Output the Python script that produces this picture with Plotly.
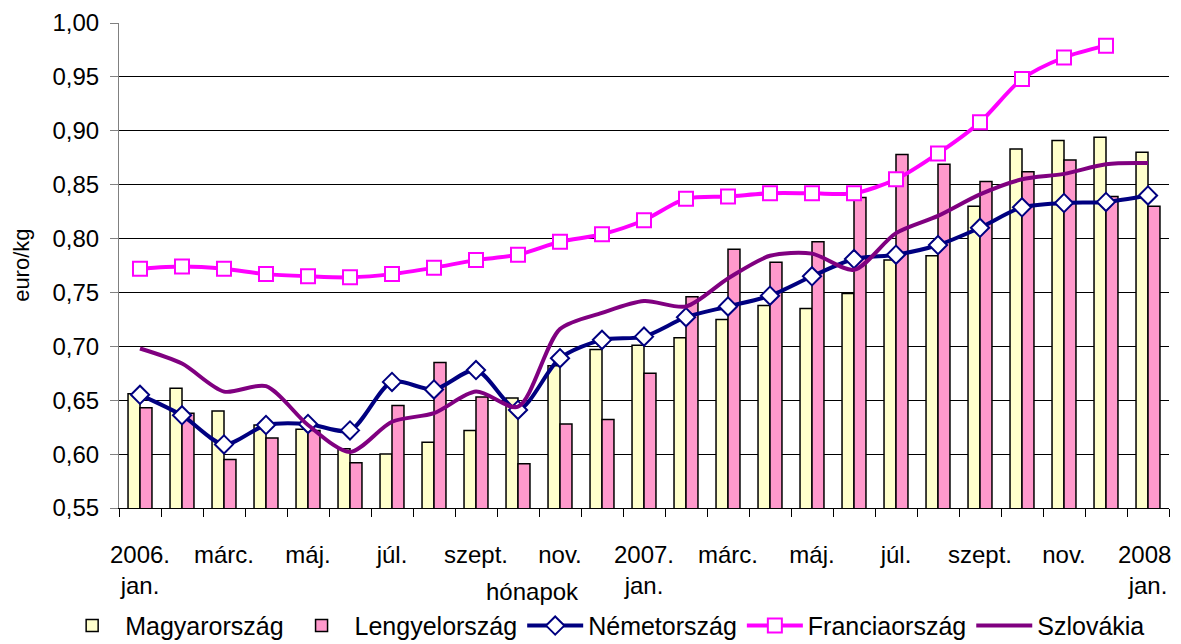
import plotly.graph_objects as go

months = ["2006-01", "2006-02", "2006-03", "2006-04", "2006-05", "2006-06",
          "2006-07", "2006-08", "2006-09", "2006-10", "2006-11", "2006-12",
          "2007-01", "2007-02", "2007-03", "2007-04", "2007-05", "2007-06",
          "2007-07", "2007-08", "2007-09", "2007-10", "2007-11", "2007-12",
          "2008-01"]
tick_labels = ["2006.<br>jan.", "", "márc.", "", "máj.", "", "júl.", "", "szept.", "",
               "nov.", "", "2007.<br>jan.", "", "márc.", "", "máj.", "", "júl.", "",
               "szept.", "", "nov.", "", "2008.<br>jan."]

magyarorszag = [0.656, 0.661, 0.640, 0.627, 0.623, 0.605, 0.600, 0.611, 0.622, 0.652,
                0.682, 0.697, 0.701, 0.708, 0.725, 0.738, 0.735, 0.749, 0.780, 0.784,
                0.830, 0.883, 0.891, 0.894, 0.880]
lengyelorszag = [0.643, 0.638, 0.595, 0.615, 0.622, 0.592, 0.645, 0.685, 0.653, 0.591,
                 0.628, 0.632, 0.675, 0.746, 0.790, 0.778, 0.797, 0.838, 0.878, 0.869,
                 0.853, 0.862, 0.873, 0.839, 0.830]
nemetorszag = [0.655, 0.636, 0.609, 0.627, 0.628, 0.622, 0.667, 0.660, 0.678, 0.641,
               0.689, 0.706, 0.709, 0.727, 0.737, 0.747, 0.765, 0.781, 0.785, 0.794,
               0.810, 0.829, 0.833, 0.834, 0.840]
franciaorszag = [0.772, 0.774, 0.772, 0.767, 0.765, 0.764, 0.767, 0.773, 0.780, 0.785,
                 0.797, 0.804, 0.817, 0.837, 0.839, 0.842, 0.842, 0.842, 0.855, 0.879,
                 0.908, 0.948, 0.968, 0.979, None]
szlovakia = [0.698, 0.684, 0.658, 0.663, 0.627, 0.602, 0.630, 0.638, 0.658, 0.644,
             0.716, 0.731, 0.742, 0.737, 0.763, 0.784, 0.786, 0.771, 0.805, 0.821,
             0.841, 0.855, 0.860, 0.869, 0.870]

FONT = "Arial, Liberation Sans, sans-serif"

fig = go.Figure()
fig.add_trace(go.Bar(x=months, y=magyarorszag, name="Magyarország",
                     marker=dict(color="#FFFFCC", line=dict(color="black", width=1.5))))
fig.add_trace(go.Bar(x=months, y=lengyelorszag, name="Lengyelország",
                     marker=dict(color="#FF99CC", line=dict(color="black", width=1.5))))
fig.add_trace(go.Scatter(x=months, y=nemetorszag, name="Németország", mode="lines+markers",
                         line=dict(color="#000080", width=4, shape="spline", smoothing=0.8),
                         marker=dict(symbol="diamond", size=14, color="white",
                                     line=dict(color="#000080", width=2))))
fig.add_trace(go.Scatter(x=months, y=franciaorszag, name="Franciaország", mode="lines+markers",
                         line=dict(color="#FF00FF", width=4, shape="spline", smoothing=0.8),
                         marker=dict(symbol="square", size=14, color="white",
                                     line=dict(color="#FF00FF", width=2))))
fig.add_trace(go.Scatter(x=months, y=szlovakia, name="Szlovákia", mode="lines",
                         line=dict(color="#800080", width=4, shape="spline", smoothing=0.8)))

# The page body adds an 8px margin, so the figure is sized to fit the window.
fig.update_layout(
    width=1173, height=636,
    margin=dict(l=111, r=12, t=15, b=136, autoexpand=False),
    paper_bgcolor="white", plot_bgcolor="white",
    font=dict(family=FONT, size=24, color="black"),
    separators=", ",
    barmode="group", bargap=0.43, bargroupgap=0,
    showlegend=True,
    legend=dict(orientation="h", x=-0.057, xanchor="left", y=-0.243, yanchor="middle",
                font=dict(size=25), itemwidth=56, tracegroupgap=0,
                bgcolor="rgba(0,0,0,0)"),
    xaxis=dict(type="category", tickmode="array", tickvals=months, ticktext=tick_labels,
               range=[-0.5, 24.5], autorange=False,
               tickson="boundaries", ticks="outside", ticklen=8, tickcolor="black",
               showline=True, linecolor="black", linewidth=1, showgrid=False,
               tickangle=0, ticklabelstandoff=25, automargin=False),
    yaxis=dict(range=[0.55, 1.0], dtick=0.05, tick0=0.55, tickformat=".2f",
               ticks="outside", ticklen=8, tickcolor="#808080",
               showline=True, linecolor="#808080", linewidth=1,
               showgrid=True, gridcolor="black", gridwidth=1,
               zeroline=False, ticklabelstandoff=6, automargin=False),
    annotations=[
        dict(text="hónapok", xref="paper", yref="paper", x=0.394, y=-0.173,
             xanchor="center", yanchor="middle", showarrow=False, font=dict(size=24)),
        dict(text="euro/kg", xref="paper", yref="paper", x=-0.093, y=0.50,
             xanchor="center", yanchor="middle", showarrow=False, textangle=-90,
             font=dict(size=22)),
    ],
)

fig.write_html("out.html")
